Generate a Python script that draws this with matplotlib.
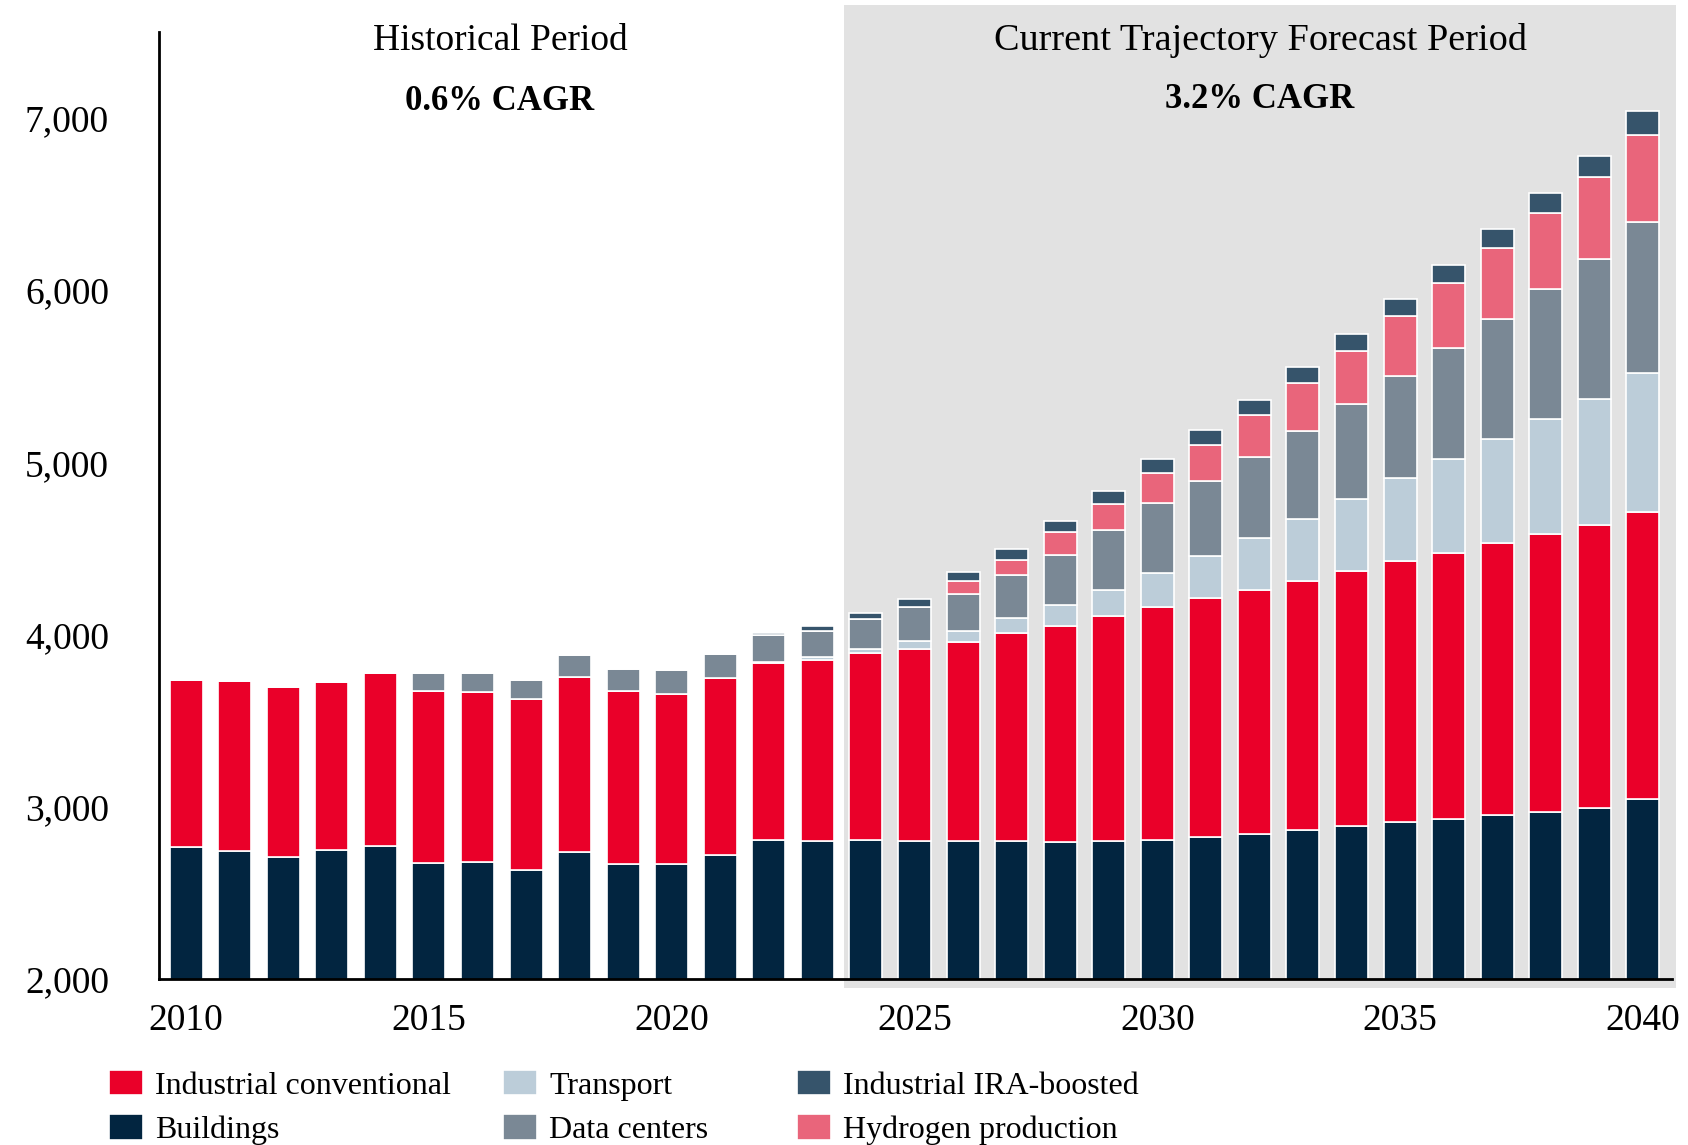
import numpy as np
import matplotlib
matplotlib.use("Agg")
import matplotlib.pyplot as plt
from matplotlib.patches import Rectangle

plt.rcParams['font.family'] = ['Liberation Serif', 'DejaVu Serif']

# Data
years = list(range(2010, 2041))

buildings = [2769, 2743, 2711, 2748, 2773, 2676, 2679, 2632, 2739, 2667, 2670,
             2719, 2806, 2802, 2808, 2804, 2801, 2801, 2795, 2804, 2810, 2827,
             2843, 2866, 2890, 2911, 2928, 2952, 2972, 2993, 3044]
industrial_conv = [968, 988, 987, 977, 1002, 999, 988, 996, 1015, 1008, 986,
                   1027, 1030, 1053, 1084, 1113, 1156, 1209, 1256, 1303, 1351,
                   1384, 1419, 1447, 1478, 1519, 1549, 1580, 1611, 1641, 1669]
transport = [0, 0, 0, 0, 0, 0, 0, 0, 0, 0, 0, 0, 5, 15, 27, 47, 63, 87, 120,
             155, 197, 243, 297, 359, 420, 480, 546, 607, 672, 734, 809]
data_centers = [0, 0, 0, 0, 0, 103, 112, 111, 126, 126, 139, 140, 155, 154,
                169, 195, 217, 248, 291, 343, 407, 438, 472, 512, 549, 594,
                642, 697, 751, 812, 873]
hydrogen = [0, 0, 0, 0, 0, 0, 0, 0, 0, 0, 0, 0, 0, 0, 0, 0, 72, 91, 133, 151,
            176, 209, 245, 276, 311, 345, 375, 409, 444, 478, 508]
industrial_ira = [0, 0, 0, 0, 0, 0, 0, 0, 0, 0, 0, 0, 15, 26, 35, 50, 56, 64,
                  67, 78, 82, 87, 89, 92, 99, 102, 109, 113, 113, 123, 140]

series = [
    ("Buildings", buildings, "#022540"),
    ("Industrial conventional", industrial_conv, "#EA0029"),
    ("Transport", transport, "#BCCDD9"),
    ("Data centers", data_centers, "#7A8895"),
    ("Hydrogen production", hydrogen, "#E9657B"),
    ("Industrial IRA-boosted", industrial_ira, "#36546B"),
]

fig = plt.figure(figsize=(16.88, 11.45), dpi=100)
ax = fig.add_axes([0.0942, 0.145, 0.8963, 0.827])
ax.set_zorder(1)
ax.patch.set_alpha(0)

# shaded forecast period
fig.patches.append(Rectangle((0.5, 0.137), 0.493, 0.859, transform=fig.transFigure,
                             facecolor="#E2E2E2", edgecolor="none", zorder=0))

handles = {}
bottom = np.zeros(len(years))
for name, vals, color in series:
    vals = np.array(vals, dtype=float)
    b = ax.bar(years, vals, bottom=bottom, width=0.68, color=color,
               edgecolor="white", linewidth=1.2, label=name)
    handles[name] = b
    bottom += vals

ax.set_ylim(2000, 7500)
ax.set_xlim(2009.44, 2040.6)
ax.set_yticks([2000, 3000, 4000, 5000, 6000, 7000])
ax.set_yticklabels(["2,000", "3,000", "4,000", "5,000", "6,000", "7,000"])
ax.set_xticks([2010, 2015, 2020, 2025, 2030, 2035, 2040])
ax.tick_params(axis="y", length=0, pad=36, labelsize=27)
ax.tick_params(axis="x", length=0, pad=18, labelsize=27)
for s in ["top", "right"]:
    ax.spines[s].set_visible(False)
for s in ["left", "bottom"]:
    ax.spines[s].set_linewidth(2)
    ax.spines[s].set_color("black")

# period headers
fig.text(500 / 1688, 1 - 41 / 1145, "Historical Period", ha="center", va="center", fontsize=27)
fig.text(500 / 1688, 1 - 102 / 1145, "0.6% CAGR", ha="center", va="center",
         fontsize=25, fontweight="bold")
fig.text(1260 / 1688, 1 - 40 / 1145, "Current Trajectory Forecast Period", ha="center",
         va="center", fontsize=27.5)
fig.text(1260 / 1688, 1 - 100 / 1145, "3.2% CAGR", ha="center", va="center",
         fontsize=25, fontweight="bold")

# legend, one column at a time
columns = [(109, ["Industrial conventional", "Buildings"]),
           (503, ["Transport", "Data centers"]),
           (797, ["Industrial IRA-boosted", "Hydrogen production"])]
for x0, names in columns:
    leg = fig.legend([handles[n] for n in names], names, loc="upper left",
                     bbox_to_anchor=(x0 / 1688, 0.0655), ncol=1, frameon=False,
                     fontsize=23, handlelength=1.05, handleheight=0.85,
                     handletextpad=0.4, labelspacing=0.42, borderaxespad=0,
                     borderpad=0)

fig.savefig("out.png", dpi=100, facecolor="white")
